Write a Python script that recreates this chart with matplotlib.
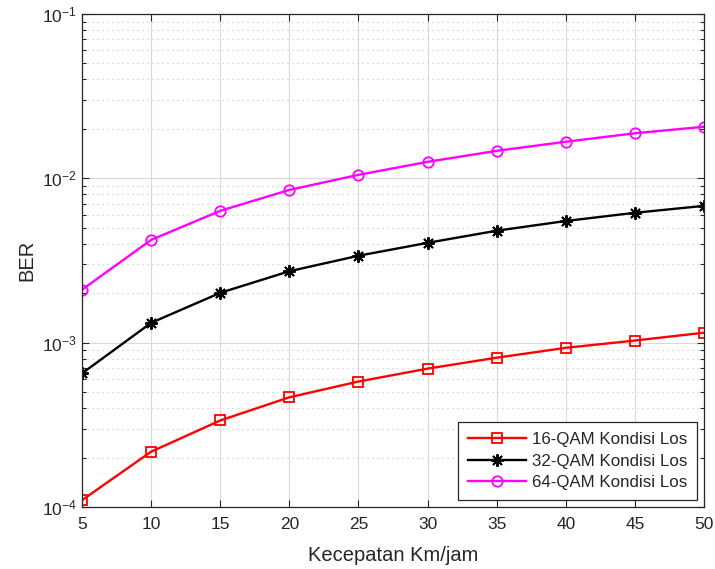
import matplotlib
matplotlib.use("Agg")
import matplotlib.pyplot as plt
from matplotlib.ticker import LogLocator, NullFormatter
import numpy as np

plt.rcParams['font.family'] = ['Liberation Sans', 'DejaVu Sans']
plt.rcParams['mathtext.fontset'] = 'custom'
plt.rcParams['mathtext.rm'] = 'Liberation Sans'
plt.rcParams['mathtext.default'] = 'regular'

kecepatan = [5, 10, 15, 20, 25, 30, 35, 40, 45, 50]
ber_16qam = [1.1e-4, 2.17e-4, 3.36e-4, 4.65e-4, 5.8e-4, 6.95e-4, 8.1e-4, 9.3e-4, 1.03e-3, 1.15e-3]
ber_32qam = [6.5e-4, 1.32e-3, 2.01e-3, 2.72e-3, 3.38e-3, 4.05e-3, 4.8e-3, 5.5e-3, 6.17e-3, 6.8e-3]
ber_64qam = [2.1e-3, 4.22e-3, 6.34e-3, 8.5e-3, 1.05e-2, 1.26e-2, 1.47e-2, 1.67e-2, 1.88e-2, 2.06e-2]

txt = '#262626'
asterisk = (8, 2, 0)  # matlab style '*'

fig = plt.figure(figsize=(7.15, 5.69), dpi=100)
ax = fig.add_axes([0.1147, 0.109, 0.87, 0.8664])

ax.semilogy(kecepatan, ber_16qam, '-', marker='s', color='#ff0000', lw=1.7, ms=6.5,
            mfc='none', mew=1.3, label='16-QAM Kondisi Los')
ax.semilogy(kecepatan, ber_32qam, '-', marker=asterisk, color='black', lw=1.7, ms=9,
            mew=1.4, label='32-QAM Kondisi Los')
ax.semilogy(kecepatan, ber_64qam, '-', marker='o', color='#ff00ff', lw=1.7, ms=7.5,
            mfc='none', mew=1.3, label='64-QAM Kondisi Los')

ax.set_xlim(5, 50)
ax.set_ylim(1e-4, 1e-1)
ax.set_xticks(np.arange(5, 51, 5))
ax.yaxis.set_major_locator(LogLocator(base=10))
ax.yaxis.set_minor_locator(LogLocator(base=10, subs=np.arange(2, 10)))
ax.yaxis.set_minor_formatter(NullFormatter())

ax.grid(True, which='major', color='#d9d9d9', lw=0.8, ls='-')
ax.grid(True, which='minor', axis='y', color='#c4c4c4', lw=0.8, ls=(0, (1, 3.5)))
ax.set_axisbelow(True)

ax.tick_params(which='both', direction='in', top=True, right=True,
               colors=txt, labelsize=12.5)
ax.tick_params(which='major', length=5, width=0.8)
ax.tick_params(which='minor', length=3, width=0.8)
ax.tick_params(axis='x', pad=7)
for s in ax.spines.values():
    s.set_color(txt)
    s.set_linewidth(0.9)

ax.set_xlabel('Kecepatan Km/jam', fontsize=14.5, color=txt, labelpad=10)
ax.set_ylabel('BER', fontsize=14.5, color=txt, labelpad=4)

leg = ax.legend(loc='lower right', fontsize=12.2, handlelength=3.4,
                fancybox=False, framealpha=1, edgecolor=txt,
                borderpad=0.6, labelspacing=0.38, handletextpad=0.35,
                borderaxespad=0.4)
leg.get_frame().set_linewidth(0.9)
for t in leg.get_texts():
    t.set_color(txt)

fig.savefig('out.png', dpi=100)
